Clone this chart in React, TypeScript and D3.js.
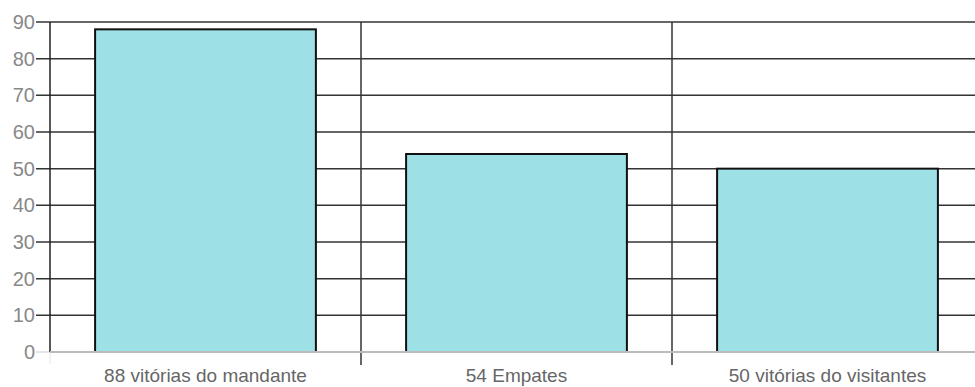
import React from "react";
import * as d3 from "d3";

const categories = ["88 vitórias do mandante", "54 Empates", "50 vitórias do visitantes"];
const values = [88, 54, 50];
const yTicks = [0, 10, 20, 30, 40, 50, 60, 70, 80, 90];

export default function App() {
  const W = 975, H = 387;
  const left = 50, top = 22, bottom = 352;
  const bandW = 311;
  const x = d3.scaleBand<string>().domain(categories).range([left, left + bandW * 3]).paddingInner(0.29).paddingOuter(0.145);
  const xb = d3.scaleBand<string>().domain(categories).range([left, left + bandW * 3]);
  const y = d3.scaleLinear().domain([0, 90]).range([bottom, top]);
  const font = "Arial, 'Liberation Sans', sans-serif";
  return (
    <svg width={W} height={H} style={{ position: "absolute", left: 0, top: 0 }}>
      <rect width={W} height={H} fill="#fff" />
      {yTicks.filter(t => t > 0).map(t => (
        <line key={"g" + t} x1={36} x2={W} y1={y(t)} y2={y(t)} stroke="#333" strokeWidth={1.5} />
      ))}
      <line x1={36} x2={left} y1={bottom} y2={bottom} stroke="#ccc" strokeWidth={1} />
      <line x1={left} x2={left} y1={top} y2={bottom} stroke="#222" strokeWidth={1.5} />
      <line x1={left} x2={left} y1={bottom} y2={bottom + 12} stroke="#e6e6e6" strokeWidth={1} />
      {categories.slice(1).map(c => (
        <line key={"v" + c} x1={xb(c)!} x2={xb(c)!} y1={top} y2={bottom + 13} stroke="#333" strokeWidth={1.5} />
      ))}
      {categories.map((c, i) => (
        <rect key={c} x={x(c)!} y={y(values[i])} width={x.bandwidth()} height={bottom - y(values[i])}
          fill="#9de0e5" stroke="#111" strokeWidth={2} />
      ))}
      <line x1={left} x2={W} y1={bottom} y2={bottom} stroke="#bbb" strokeWidth={2} />
      {yTicks.map(t => (
        <text key={"t" + t} x={35} y={y(t)} dy="0.35em" textAnchor="end" fontFamily={font} fontSize={20} fill="#888">{t}</text>
      ))}
      {categories.map(c => (
        <text key={"l" + c} x={xb(c)! + xb.bandwidth() / 2} y={382} textAnchor="middle" fontFamily={font} fontSize={19} fill="#666">{c}</text>
      ))}
    </svg>
  );
}
